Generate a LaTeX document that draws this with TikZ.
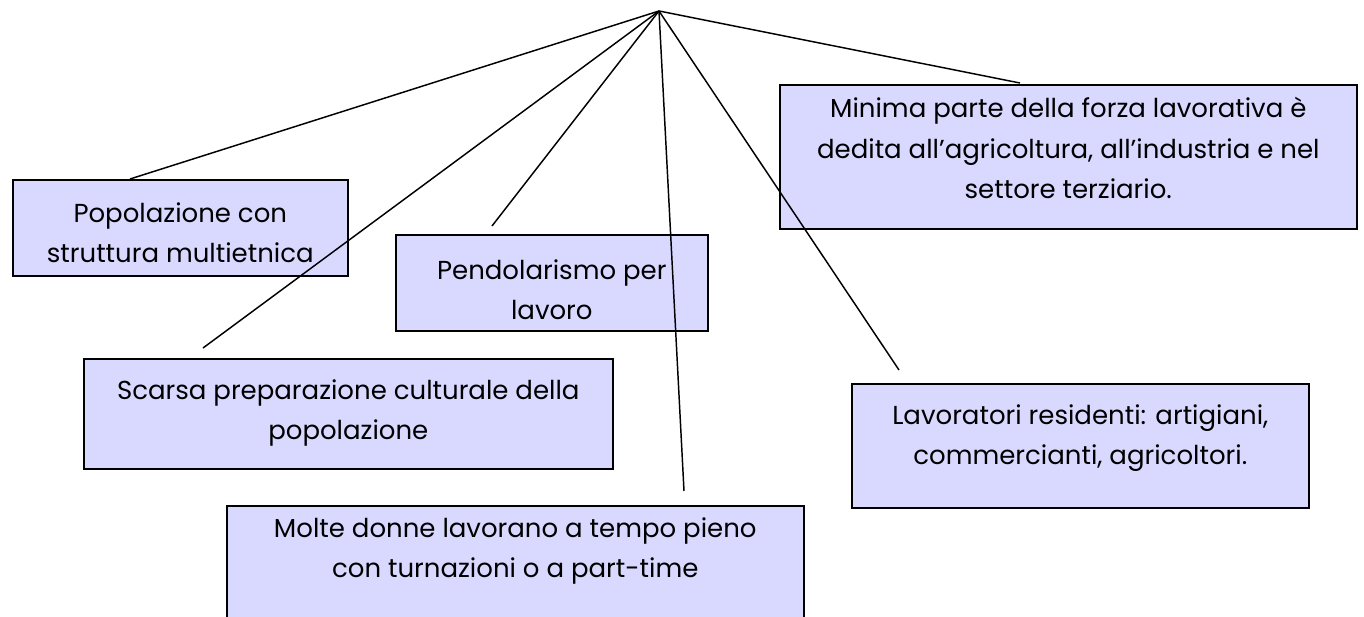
\documentclass[tikz,border=0pt]{standalone}
\usepackage{fontspec}
\setmainfont{Poppins}
\definecolor{boxfill}{RGB}{217,217,255}
\tikzset{
  box/.style={draw=black, line width=1.2pt, fill=boxfill, inner sep=0pt, anchor=north west},
  txt/.style={align=center, inner sep=0pt, anchor=north, font=\fontsize{19.5}{30.5}\selectfont},
  link/.style={draw=black, line width=1.1pt}
}
\begin{document}
\begin{tikzpicture}[x=0.75pt,y=-0.75pt]
\clip (0,0) rectangle (1364,617);
\useasboundingbox (0,0) rectangle (1364,617);
% boxes
\node[box, minimum width=335*0.75pt, minimum height=96*0.75pt] (pop) at (12,179) {};
\node[box, minimum width=312*0.75pt, minimum height=96*0.75pt] (pen) at (395,234) {};
\node[box, minimum width=577*0.75pt, minimum height=144*0.75pt] (min) at (779,84) {};
\node[box, minimum width=529*0.75pt, minimum height=110*0.75pt] (sca) at (83,358) {};
\node[box, minimum width=457*0.75pt, minimum height=124*0.75pt] (lav) at (851,383) {};
\node[box, minimum width=577*0.75pt, minimum height=130*0.75pt] (mol) at (226,505) {};
% texts
\node[txt] (popt) at (pop.north |- 0,202) {Popolazione con\\struttura multietnica};
\node[txt] (pent) at (pen.north |- 0,259) {Pendolarismo per\\lavoro};
\node[txt] (mint) at (min.north |- 0,97) {Minima parte della forza lavorativa è\\dedita all’agricoltura, all’industria e nel\\settore terziario.};
\node[txt] (scat) at (sca.north |- 0,379) {Scarsa preparazione culturale della\\popolazione};
\node[txt] (lavt) at (lav.north |- 0,404) {Lavoratori residenti: artigiani,\\commercianti, agricoltori.};
\node[txt] (molt) at (mol.north |- 0,517) {Molte donne lavorano a tempo pieno\\con turnazioni o a part-time};
% connector ends
\coordinate (apex) at (659,11);
\coordinate (popend) at (130,179);
\coordinate (penend) at (492,226);
\coordinate (minend) at (1020,83);
\coordinate (scaend) at (203,348);
\coordinate (lavend) at (899,370);
\coordinate (molend) at (684,491);
\draw[link] (apex) -- (popend);
\draw[link] (apex) -- (penend);
\draw[link] (apex) -- (minend);
\draw[link] (apex) -- (scaend);
\draw[link] (apex) -- (lavend);
\draw[link] (apex) -- (molend);
\end{tikzpicture}
\end{document}
